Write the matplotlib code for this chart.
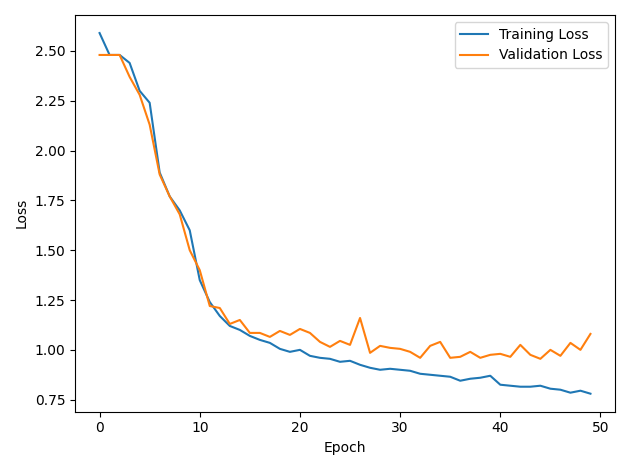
import matplotlib
matplotlib.use("Agg")
import matplotlib.pyplot as plt

epochs = list(range(50))
train_loss = [2.59,2.48,2.48,2.44,2.30,2.24,1.89,1.77,1.70,1.60,1.35,1.24,1.17,1.12,1.10,1.07,1.05,1.035,1.005,0.99,
              1.00,0.97,0.96,0.955,0.94,0.945,0.925,0.91,0.90,0.905,0.90,0.895,0.88,0.875,0.87,0.865,0.845,0.855,0.86,0.87,
              0.825,0.82,0.815,0.815,0.82,0.805,0.80,0.785,0.795,0.78]
val_loss = [2.48,2.48,2.48,2.37,2.28,2.13,1.88,1.77,1.68,1.50,1.40,1.22,1.21,1.13,1.15,1.085,1.085,1.065,1.095,1.075,
            1.105,1.085,1.04,1.015,1.045,1.025,1.16,0.985,1.02,1.01,1.005,0.99,0.96,1.02,1.04,0.96,0.965,0.99,0.96,0.975,
            0.98,0.965,1.025,0.975,0.955,1.0,0.97,1.035,1.0,1.08]

fig, ax = plt.subplots(figsize=(6.3, 4.7), dpi=100)
ax.plot(epochs, train_loss, label="Training Loss")
ax.plot(epochs, val_loss, label="Validation Loss")
ax.set_xlabel("Epoch")
ax.set_ylabel("Loss")
ax.legend()
fig.tight_layout()
fig.savefig("out.png")
